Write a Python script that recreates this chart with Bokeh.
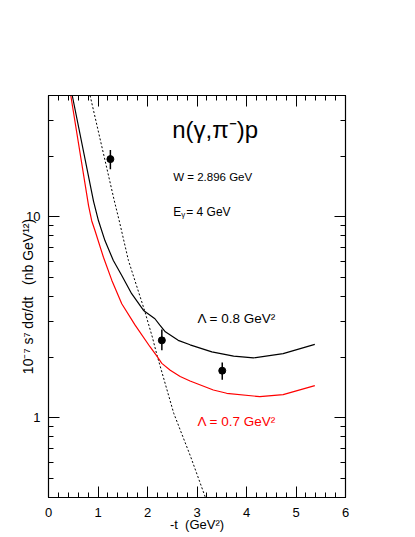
from bokeh.plotting import figure
from bokeh.models import (FixedTicker, LinearAxis, LogAxis, Label, Range1d, ColumnDataSource,
                          BasicTickFormatter, CustomJSTickFormatter)
from bokeh.embed import file_html
from bokeh.resources import INLINE

# ---- data ----
pts_t = [1.25, 2.29, 3.51]
pts_y = [19.3, 2.42, 1.71]
pts_lo = [17.2, 2.16, 1.54]
pts_hi = [21.4, 2.74, 1.88]

lam08_t = [0.48, 0.91, 1.01, 1.14, 1.31, 1.48, 1.68, 1.92, 2.15, 2.25, 2.36, 2.62, 2.86, 3.30, 3.74, 4.14, 4.74, 5.38]
lam08_y = [40.0, 11.9, 9.52, 7.59, 6.04, 5.09, 4.13, 3.41, 3.10, 2.88, 2.67, 2.42, 2.30, 2.12, 2.02, 1.98, 2.08, 2.31]

lam07_t = [0.45, 0.81, 0.874, 0.94, 1.11, 1.28, 1.48, 1.75, 2.05, 2.19, 2.29, 2.46, 2.66, 2.86, 3.33, 3.60, 4.27, 4.74, 5.38]
lam07_y = [40.0, 11.3, 9.5, 8.49, 6.27, 4.81, 3.68, 2.88, 2.25, 2.02, 1.86, 1.72, 1.60, 1.52, 1.37, 1.32, 1.27, 1.30, 1.44]

dot_t = [0.84, 1.33, 1.43, 1.615, 1.94, 2.10, 2.19, 2.53, 2.87, 3.17]
dot_y = [40.0, 11.96, 9.5, 6.04, 3.41, 2.50, 2.05, 1.05, 0.64, 0.40]

x_major = [0, 1, 2, 3, 4, 5, 6]
x_minor = [i * 0.2 for i in range(31)]
y_major = [1, 10]
y_minor = [0.5, 0.6, 0.7, 0.8, 0.9, 2, 3, 4, 5, 6, 7, 8, 9, 20, 30]

FONT = "Liberation Sans"

p = figure(width=415, height=537, y_axis_type="log",
           x_range=Range1d(0, 6), y_range=Range1d(0.4, 40),
           output_backend="svg", toolbar_location=None,
           min_border_left=48, min_border_right=70,
           min_border_top=95, min_border_bottom=40)
p.xgrid.visible = False
p.ygrid.visible = False
p.outline_line_color = "black"
p.background_fill_color = "white"
p.border_fill_color = "white"

def style_axis(ax):
    ax.axis_line_color = "black"
    ax.axis_line_width = 1.2
    ax.major_tick_in = 11
    ax.major_tick_out = 0
    ax.minor_tick_in = 5
    ax.minor_tick_out = 0
    ax.major_tick_line_color = "black"
    ax.minor_tick_line_color = "black"
    ax.major_label_text_font = FONT
    ax.major_label_text_font_size = "13px"
    ax.major_label_text_color = "black"
    ax.axis_label_text_font = FONT
    ax.axis_label_text_font_size = "13px"
    ax.axis_label_text_font_style = "normal"
    ax.axis_label_text_color = "black"

xt = FixedTicker(ticks=x_major, minor_ticks=x_minor)
yt = FixedTicker(ticks=y_major, minor_ticks=y_minor)

p.xaxis.ticker = xt
p.yaxis.ticker = yt
p.yaxis.formatter = BasicTickFormatter()
style_axis(p.xaxis[0])
style_axis(p.yaxis[0])
p.xaxis.major_label_standoff = 10
p.yaxis.major_label_standoff = 8
p.xaxis.axis_label = "-t\u00a0\u00a0(GeV\u00b2)"
p.xaxis.axis_label_standoff = -3
p.yaxis.axis_label = "10\u207b\u2077 s\u2077 d\u03c3/dt\u00a0\u00a0\u00a0(nb GeV\u00b9\u00b2)"
p.yaxis.axis_label_text_font_size = "14px"
p.yaxis.axis_label_standoff = -13

blank = CustomJSTickFormatter(code="return ''")
top = LinearAxis(ticker=xt, formatter=blank)
style_axis(top)
p.add_layout(top, "above")
right = LogAxis(ticker=yt, formatter=blank)
style_axis(right)
p.add_layout(right, "right")

# curves
p.line(dot_t, dot_y, line_color="black", line_width=1, line_dash="2 2")
p.line(lam08_t, lam08_y, line_color="black", line_width=1.2)
p.line(lam07_t, lam07_y, line_color="#ff0000", line_width=1.2)

# data points
src = ColumnDataSource(dict(t=pts_t, y=pts_y, lo=pts_lo, hi=pts_hi))
p.segment(x0="t", y0="lo", x1="t", y1="hi", source=src, line_color="black", line_width=1.5)
p.scatter(x="t", y="y", source=src, size=7, color="black")

def lab(x, y, text, size, color="black", xo=0, yo=0, **kw):
    p.add_layout(Label(x=x, y=y, text=text, text_font=FONT, text_font_size=size,
                       text_color=color, x_offset=xo, y_offset=yo,
                       text_baseline="alphabetic", **kw))

lab(2.50, 27.2, "n(\u03b3,\u03c0\u207b)p", "24px")
lab(2.52, 15.45, "W = 2.896 GeV", "11.5px", yo=2)
lab(2.52, 10.55, "E", "12px")
lab(2.52, 10.55, "\u03b3", "8px", xo=8, yo=-3)
lab(2.52, 10.55, " = 4 GeV", "12px", xo=13)
lab(3.01, 3.04, "\u039b = 0.8 GeV\u00b2", "13.5px", yo=2)
lab(3.01, 0.957, "\u039b = 0.7 GeV\u00b2", "13.5px", color="#ff0000")

open("out.html", "w").write(file_html(p, INLINE))
